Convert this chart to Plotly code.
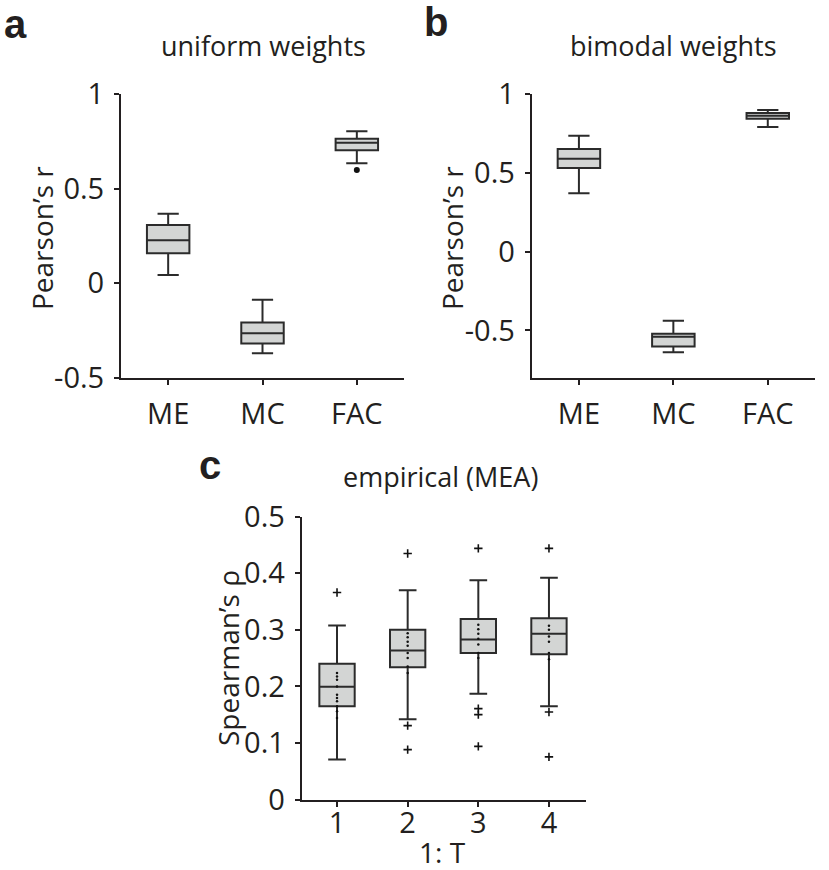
import plotly.graph_objects as go

W, H = 829, 870

# ---------------- data ----------------
cats_ab = ["ME", "MC", "FAC"]

# panel a: uniform weights (Pearson's r)
a_lower = [0.044, -0.370, 0.635]
a_q1 = [0.159, -0.319, 0.704]
a_med = [0.227, -0.265, 0.744]
a_q3 = [0.308, -0.208, 0.765]
a_upper = [0.368, -0.087, 0.804]
a_out_x = [3]
a_out_y = [0.599]

# panel b: bimodal weights (Pearson's r)
b_lower = [0.371, -0.638, 0.793]
b_q1 = [0.532, -0.602, 0.844]
b_med = [0.591, -0.540, 0.863]
b_q3 = [0.653, -0.521, 0.882]
b_upper = [0.736, -0.439, 0.901]

# panel c: empirical (MEA), Spearman's rho
cats_c = ["1", "2", "3", "4"]
c_lower = [0.0706, 0.1418, 0.187, 0.1647]
c_q1 = [0.1647, 0.234, 0.259, 0.257]
c_med = [0.1994, 0.2635, 0.283, 0.293]
c_q3 = [0.240, 0.300, 0.319, 0.3206]
c_upper = [0.3076, 0.370, 0.3877, 0.392]
c_out_x = [1, 2, 2, 2, 3, 3, 3, 3, 4, 4, 4]
c_out_y = [0.366, 0.435, 0.1306, 0.0882, 0.444, 0.1606, 0.150, 0.094, 0.444, 0.1547, 0.0753]
# individual points drawn along the box centre
c_pts_x = [1]*10 + [2]*8 + [3]*7 + [4]*6
c_pts_y = [0.2235, 0.2176, 0.2118, 0.200, 0.1853, 0.1794, 0.1735, 0.1647, 0.1559, 0.1441,
           0.294, 0.287, 0.279, 0.272, 0.259, 0.250, 0.235, 0.2235,
           0.309, 0.301, 0.293, 0.284, 0.274, 0.259, 0.250,
           0.307, 0.300, 0.288, 0.279, 0.259, 0.248]

# ---------------- style ----------------
FONT = "Open Sans"
TXT = "#231f20"
FILL = "#d3d5d4"
EDGE = "#2b2b2b"
TICK_SIZE = 29

fig = go.Figure()

def add_box(xs, q1, med, q3, lo, hi, xa, ya, width):
    fig.add_trace(go.Box(
        x=xs, q1=q1, median=med, q3=q3, lowerfence=lo, upperfence=hi,
        xaxis=xa, yaxis=ya, width=width, whiskerwidth=0.5,
        fillcolor=FILL, line=dict(color=EDGE, width=2),
        boxpoints=False, showlegend=False, hoverinfo="skip",
    ))

add_box([1, 2, 3], a_q1, a_med, a_q3, a_lower, a_upper, "x", "y", 0.45)
fig.add_trace(go.Scatter(x=a_out_x, y=a_out_y, mode="markers", xaxis="x", yaxis="y",
                         marker=dict(symbol="circle", size=6, color="#111"),
                         showlegend=False, hoverinfo="skip"))
add_box([1, 2, 3], b_q1, b_med, b_q3, b_lower, b_upper, "x2", "y2", 0.45)
add_box([1, 2, 3, 4], c_q1, c_med, c_q3, c_lower, c_upper, "x3", "y3", 0.5)
fig.add_trace(go.Scatter(x=c_pts_x, y=c_pts_y, mode="markers", xaxis="x3", yaxis="y3",
                         marker=dict(symbol="circle", size=2.5, color="#111"),
                         showlegend=False, hoverinfo="skip"))
fig.add_trace(go.Scatter(x=c_out_x, y=c_out_y, mode="markers", xaxis="x3", yaxis="y3",
                         marker=dict(symbol="cross-thin", size=6, color="#111",
                                     line=dict(color="#111", width=1.6)),
                         showlegend=False, hoverinfo="skip"))

def px_x(x):
    return x / W

def px_y(y):
    return 1 - y / H

axis_common = dict(showline=True, linecolor=TXT, linewidth=2, ticks="outside",
                   ticklen=5, tickwidth=1.5, tickcolor=TXT, showgrid=False,
                   zeroline=False, tickfont=dict(family=FONT, size=TICK_SIZE, color=TXT),
                   fixedrange=True, automargin=False)

fig.update_layout(
    width=W, height=H, margin=dict(l=0, r=0, t=0, b=0, autoexpand=False),
    paper_bgcolor="white", plot_bgcolor="white",
    boxmode="overlay",
    xaxis=dict(axis_common, domain=[px_x(121), px_x(404)], range=[0.5, 3.5],
               tickvals=[1, 2, 3], ticktext=cats_ab, anchor="y", ticklabelstandoff=4),
    yaxis=dict(axis_common, domain=[px_y(377.7), px_y(94.3)], range=[-0.5, 1],
               tickvals=[-0.5, 0, 0.5, 1], ticktext=["-0.5", "0", "0.5", "1"],
               anchor="x", ticklabelstandoff=4),
    xaxis2=dict(axis_common, domain=[px_x(531.7), px_x(815)], range=[0.5, 3.5],
                tickvals=[1, 2, 3], ticktext=cats_ab, anchor="y2", ticklabelstandoff=4),
    yaxis2=dict(axis_common, domain=[px_y(377.7), px_y(94.3)], range=[-0.8, 1],
                tickvals=[-0.5, 0, 0.5, 1], ticktext=["-0.5", "0", "0.5", "1"],
                anchor="x2", ticklabelstandoff=4),
    xaxis3=dict(axis_common, domain=[px_x(301.7), px_x(585.7)], range=[0.5, 4.52],
                tickvals=[1, 2, 3, 4], ticktext=cats_c, anchor="y3", ticklabelstandoff=-8),
    yaxis3=dict(axis_common, domain=[px_y(799.5), px_y(516.7)], range=[0, 0.5],
                tickvals=[0, 0.1, 0.2, 0.3, 0.4, 0.5],
                ticktext=["0", "0.1", "0.2", "0.3", "0.4", "0.5"],
                anchor="x3", ticklabelstandoff=4),
)

def ann(text, x, y, size=TICK_SIZE, angle=0, family=FONT, bold=False):
    fig.add_annotation(text=("<b>%s</b>" % text) if bold else text,
                       x=px_x(x), y=px_y(y), xref="paper", yref="paper",
                       xanchor="center", yanchor="middle", showarrow=False,
                       textangle=angle, font=dict(family=family, size=size, color=TXT))

# panel letters
ann("a", 16, 24, size=40, family="Liberation Sans", bold=True)
ann("b", 436, 22, size=40, family="Liberation Sans", bold=True)
ann("c", 210, 465, size=40, family="Liberation Sans", bold=True)
# titles
ann("uniform weights", 263, 46, size=27)
ann("bimodal weights", 673, 46, size=27)
ann("empirical (MEA)", 440, 476, size=27)
# axis titles
ann("Pearson’s r", 42, 238, angle=-90, size=28)
ann("Pearson’s r", 452, 238, angle=-90, size=28)
ann("Spearman’s ρ", 228, 658, angle=-90, size=28)
ann("1: T", 443, 852, size=28)

fig.write_html("out.html", config={"displayModeBar": False},
               post_script="document.body.style.margin='0';")
